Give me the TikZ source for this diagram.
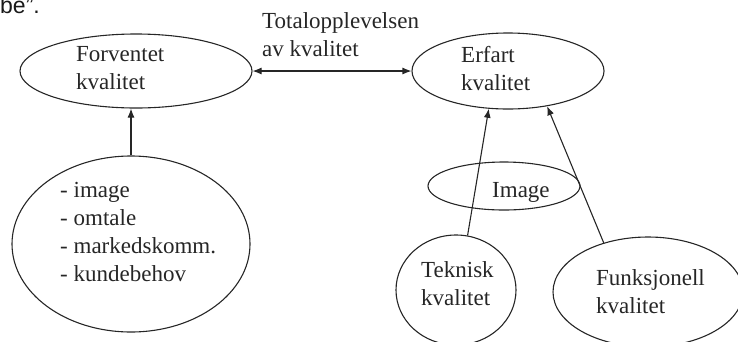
\documentclass[tikz,border=0pt]{standalone}
\usepackage{fontspec}
\setmainfont{Liberation Serif}
\newfontfamily\arialish{Liberation Sans}
\usetikzlibrary{shapes.geometric,arrows.meta}
\tikzset{
  ell/.style={draw=black!85, line width=1.1pt, ellipse, inner sep=0pt},
  lbl/.style={anchor=base west, inner sep=0pt, text=black!85,
    font=\fontsize{23}{28}\selectfont},
  conn/.style={draw=black!85, line width=1.1pt},
  arr/.style={conn, -{Latex[length=9pt,width=7pt]}},
  darr/.style={conn, {Latex[length=9pt,width=7pt]}-{Latex[length=9pt,width=7pt]}}
}
\newcommand{\twol}[2]{\begin{tabular}[t]{@{}l@{}}#1\\#2\end{tabular}}
\begin{document}
\begin{tikzpicture}[x=1pt,y=-1pt]
\useasboundingbox (0,0) rectangle (738,341);
\clip (0,0) rectangle (738,341);
% ellipses
\node[ell, minimum width=232pt, minimum height=74pt] (fk) at (136,71) {};
\node[ell, minimum width=192pt, minimum height=76pt] (ek) at (508,71) {};
\node[ell, minimum width=238pt, minimum height=176pt] (lst) at (131,244) {};
\node[ell, minimum width=152pt, minimum height=48pt] (img) at (504,186) {};
\node[ell, minimum width=120pt, minimum height=110pt] (tk) at (456,290) {};
\node[ell, minimum width=190pt, minimum height=110pt] (fn) at (648,292) {};
% texts
\node[lbl] (tfk) at (76,61) {\twol{Forventet}{kvalitet}};
\node[lbl] (tek) at (461,62) {\twol{Erfart}{kvalitet}};
\node[lbl] (ttot) at (262,28) {\twol{Totalopplevelsen}{av kvalitet}};
\node[lbl] (tlst) at (60,197) {\begin{tabular}[t]{@{}l@{}}- image\\- omtale\\- markedskomm.\\- kundebehov\end{tabular}};
\node[lbl] (timg) at (492,197) {Image};
\node[lbl] (ttk) at (421,277) {\twol{Teknisk}{kvalitet}};
\node[lbl] (tfn) at (596,285) {\twol{Funksjonell}{kvalitet}};
\node[anchor=base west, inner sep=0pt, font=\arialish\fontsize{23}{28}\selectfont, text=black!90] (be) at (0,13) {be”.};
% connectors
\draw[darr] (fk) -- (ek);
\draw[arr] (lst.north) -- (lst.north |- fk.south);
\draw[arr] (tk.78) -- (ek.243);
\draw[arr] (fn.132) -- (ek.318);
\end{tikzpicture}
\end{document}
